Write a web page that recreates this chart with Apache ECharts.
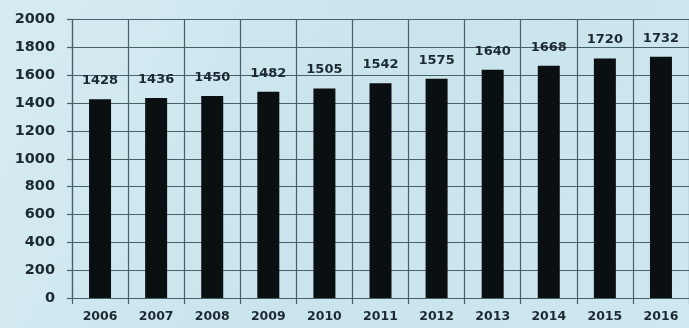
<!DOCTYPE html>
<html>
<head>
<meta charset="utf-8">
<script src="https://cdn.jsdelivr.net/npm/echarts@6/dist/echarts.min.js"></script>
<style>
html,body{margin:0;padding:0;}
#chart{width:689px;height:328px;}
</style>
</head>
<body>
<div id="chart"></div>
<script>
var years = ['2006','2007','2008','2009','2010','2011','2012','2013','2014','2015','2016'];
var values = [1428,1436,1450,1482,1505,1542,1575,1640,1668,1720,1732];
var yTicks = [0,200,400,600,800,1000,1200,1400,1600,1800,2000];

var chart = echarts.init(document.getElementById('chart'));
var textColor = '#1c2a32';
var lineColor = '#46616c';
chart.setOption({
  backgroundColor: {
    type: 'linear', x: 0, y: 0, x2: 1, y2: 1,
    colorStops: [
      {offset: 0, color: '#d6ecf1'},
      {offset: 0.5, color: '#c9e4ec'},
      {offset: 1, color: '#cfe7ee'}
    ]
  },
  animation: false,
  grid: {left: 72, right: -8, top: 19.5, bottom: 30, containLabel: false},
  xAxis: {
    type: 'category',
    data: years,
    boundaryGap: true,
    axisLine: {show: true, lineStyle: {color: lineColor, width: 1.2}},
    axisTick: {show: true, length: 6, lineStyle: {color: lineColor, width: 1.2}},
    splitLine: {show: true, lineStyle: {color: lineColor, width: 1.2}},
    axisLabel: {
      color: textColor, fontFamily: 'DejaVu Sans', fontWeight: 'bold', fontSize: 12.5, margin: 12
    }
  },
  yAxis: {
    type: 'value',
    min: yTicks[0],
    max: yTicks[yTicks.length - 1],
    interval: 200,
    axisLine: {show: true, lineStyle: {color: lineColor, width: 1.2}},
    axisTick: {show: true, length: 5, lineStyle: {color: lineColor, width: 1.2}},
    splitLine: {show: true, lineStyle: {color: lineColor, width: 1.2}},
    axisLabel: {
      color: textColor, fontFamily: 'DejaVu Sans', fontWeight: 'bold', fontSize: 14.5, margin: 17,
      formatter: function (v) { return String(v); }
    }
  },
  series: [{
    type: 'bar',
    data: values,
    barWidth: 22,
    itemStyle: {color: '#0a0f12'},
    label: {
      show: true, position: 'top', distance: 12,
      color: textColor, fontFamily: 'DejaVu Sans', fontWeight: 'bold', fontSize: 13
    }
  }]
});
</script>
</body>
</html>
